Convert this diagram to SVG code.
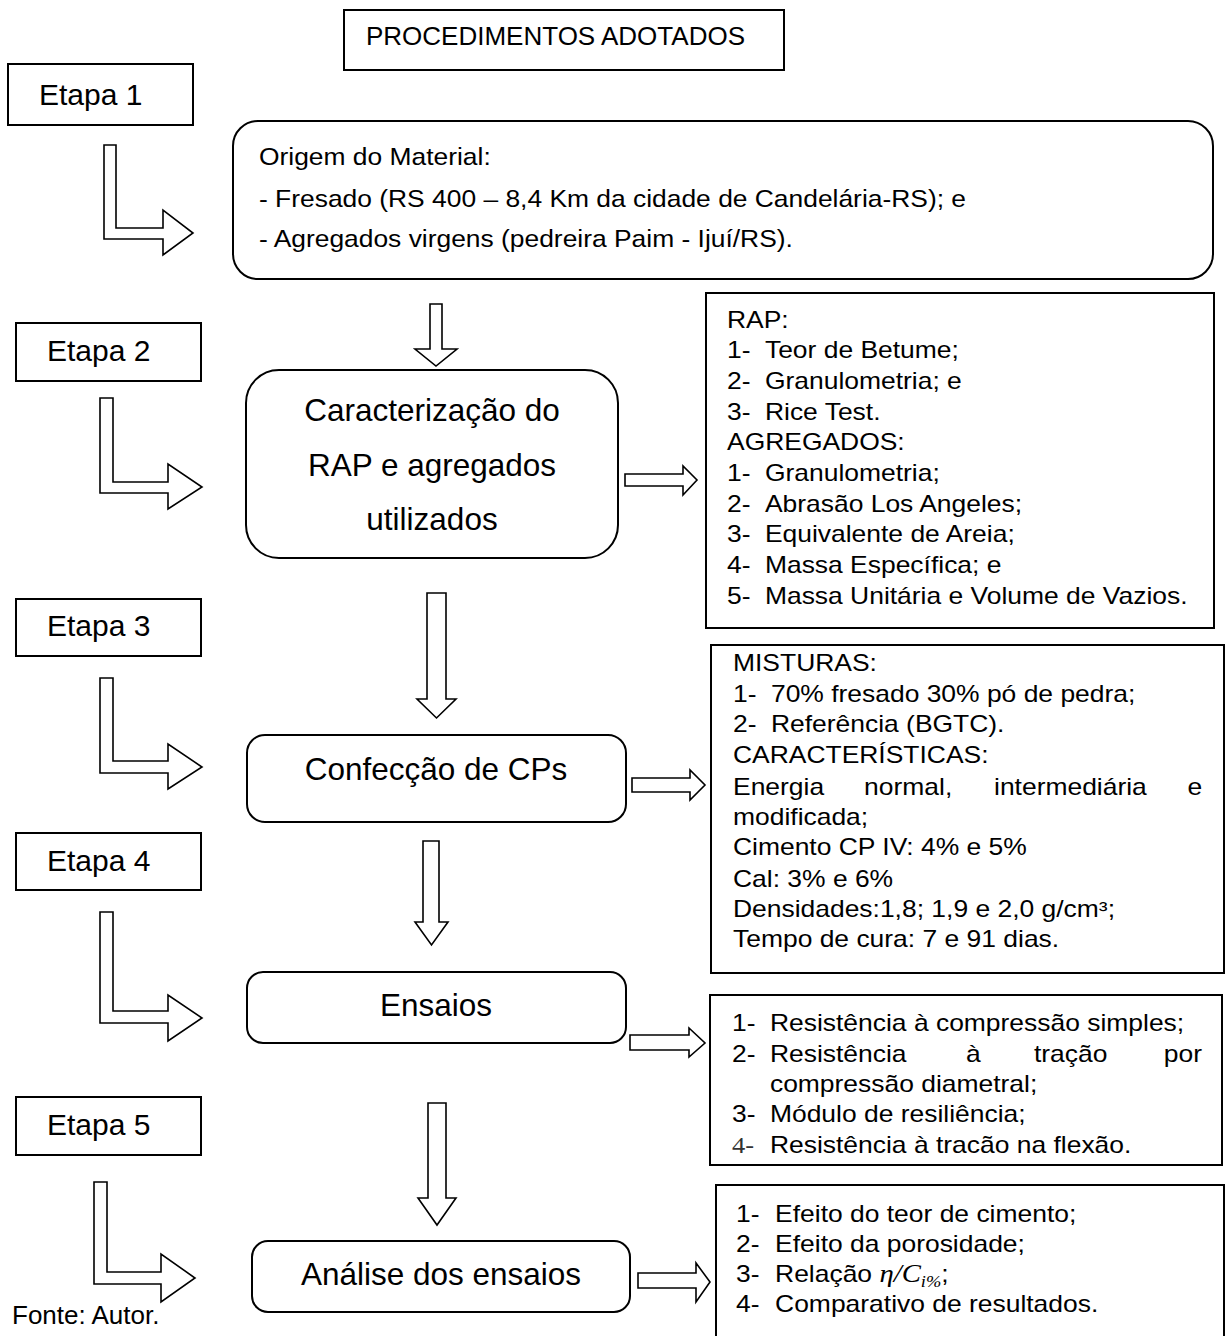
<svg xmlns="http://www.w3.org/2000/svg" width="1225" height="1336" viewBox="0 0 1225 1336">
<style>
  text { font-family: "Liberation Sans", Arial, sans-serif; fill: #000; }
  .box { fill: #fff; stroke: #000; stroke-width: 2; }
  .arr { fill: #fff; stroke: #000; stroke-width: 1.6; stroke-linejoin: miter; }
  .etapa { font-size: 30px; }
  .big { font-size: 31.5px; text-anchor: middle; }
  .sm { font-size: 23px; }
  .org { font-size: 24px; }
  .math { font-family: "Liberation Serif", "DejaVu Serif", serif; font-style: italic; }
</style>
<rect width="1225" height="1336" fill="#fff"/>

<g id="title">
  <rect class="box" x="344" y="10" width="440" height="60"/>
  <text x="366" y="45" font-size="26">PROCEDIMENTOS ADOTADOS</text>
</g>

<g id="etapa1">
  <rect class="box" x="8" y="64" width="185" height="61"/>
  <text class="etapa" x="39" y="105">Etapa 1</text>
</g>
<g id="etapa2">
  <rect class="box" x="16" y="323" width="185" height="58"/>
  <text class="etapa" x="47" y="361">Etapa 2</text>
</g>
<g id="etapa3">
  <rect class="box" x="16" y="599" width="185" height="57"/>
  <text class="etapa" x="47" y="636">Etapa 3</text>
</g>
<g id="etapa4">
  <rect class="box" x="16" y="833" width="185" height="57"/>
  <text class="etapa" x="47" y="871">Etapa 4</text>
</g>
<g id="etapa5">
  <rect class="box" x="16" y="1097" width="185" height="58"/>
  <text class="etapa" x="47" y="1135">Etapa 5</text>
</g>

<g id="origem">
  <rect class="box" x="233" y="121" width="980" height="158" rx="25"/>
  <g transform="translate(259 0) scale(1.1 1)">
    <text class="org" x="0" y="165">Origem do Material:</text>
    <text class="org" x="0" y="207">- Fresado (RS 400 – 8,4 Km da cidade de Candelária-RS); e</text>
    <text class="org" x="0" y="247">- Agregados virgens (pedreira Paim - Ijuí/RS).</text>
  </g>
</g>

<g id="caracterizacao">
  <rect class="box" x="246" y="370" width="372" height="188" rx="33"/>
  <text class="big" x="432" y="421">Caracterização do</text>
  <text class="big" x="432" y="476">RAP e agregados</text>
  <text class="big" x="432" y="530">utilizados</text>
</g>

<g id="rap">
  <rect class="box" x="706" y="293" width="508" height="335"/>
  <g transform="translate(727 0) scale(1.15 1)">
    <text class="sm" x="0" y="328">RAP:</text>
    <text class="sm" x="0" y="358">1-</text><text class="sm" x="33" y="358">Teor de Betume;</text>
    <text class="sm" x="0" y="389">2-</text><text class="sm" x="33" y="389">Granulometria; e</text>
    <text class="sm" x="0" y="420">3-</text><text class="sm" x="33" y="420">Rice Test.</text>
    <text class="sm" x="0" y="450">AGREGADOS:</text>
    <text class="sm" x="0" y="481">1-</text><text class="sm" x="33" y="481">Granulometria;</text>
    <text class="sm" x="0" y="512">2-</text><text class="sm" x="33" y="512">Abrasão Los Angeles;</text>
    <text class="sm" x="0" y="542">3-</text><text class="sm" x="33" y="542">Equivalente de Areia;</text>
    <text class="sm" x="0" y="573">4-</text><text class="sm" x="33" y="573">Massa Específica; e</text>
    <text class="sm" x="0" y="604">5-</text><text class="sm" x="33" y="604">Massa Unitária e Volume de Vazios.</text>
  </g>
</g>

<g id="confeccao">
  <rect class="box" x="247" y="735" width="379" height="87" rx="18"/>
  <text class="big" x="436" y="780">Confecção de CPs</text>
</g>

<g id="misturas">
  <rect class="box" x="711" y="645" width="513" height="328"/>
  <g transform="translate(733 0) scale(1.15 1)">
    <text class="sm" x="0" y="671">MISTURAS:</text>
    <text class="sm" x="0" y="702">1-</text><text class="sm" x="33" y="702">70% fresado 30% pó de pedra;</text>
    <text class="sm" x="0" y="732">2-</text><text class="sm" x="33" y="732">Referência (BGTC).</text>
    <text class="sm" x="0" y="763">CARACTERÍSTICAS:</text>
    <text class="sm" x="0" y="795">Energia</text>
    <text class="sm" x="114" y="795">normal,</text>
    <text class="sm" x="227" y="795">intermediária</text>
    <text class="sm" x="408" y="795" text-anchor="end">e</text>
    <text class="sm" x="0" y="825">modificada;</text>
    <text class="sm" x="0" y="855">Cimento CP IV: 4% e 5%</text>
    <text class="sm" x="0" y="887">Cal: 3% e 6%</text>
    <text class="sm" x="0" y="917">Densidades:1,8; 1,9 e 2,0 g/cm³;</text>
    <text class="sm" x="0" y="947">Tempo de cura: 7 e 91 dias.</text>
  </g>
</g>

<g id="ensaios">
  <rect class="box" x="247" y="972" width="379" height="71" rx="16"/>
  <text class="big" x="436" y="1016">Ensaios</text>
</g>

<g id="ensaios-lista">
  <rect class="box" x="710" y="995" width="512" height="170"/>
  <g transform="translate(732 0) scale(1.15 1)">
    <text class="sm" x="0" y="1031">1-</text><text class="sm" x="33" y="1031">Resistência à compressão simples;</text>
    <text class="sm" x="0" y="1062">2-</text><text class="sm" x="33" y="1062">Resistência</text>
    <text class="sm" x="203.5" y="1062">à</text>
    <text class="sm" x="262.6" y="1062">tração</text>
    <text class="sm" x="408.7" y="1062" text-anchor="end">por</text>
    <text class="sm" x="33" y="1092">compressão diametral;</text>
    <text class="sm" x="0" y="1122">3-</text><text class="sm" x="33" y="1122">Módulo de resiliência;</text>
    <text class="sm" x="0" y="1153" style="font-family:'Liberation Serif',serif;fill:#333">4-</text><text class="sm" x="33" y="1153">Resistência à tracão na flexão.</text>
  </g>
</g>

<g id="analise">
  <rect class="box" x="252" y="1241" width="378" height="71" rx="16"/>
  <text class="big" x="441" y="1285">Análise dos ensaios</text>
</g>

<g id="analise-lista">
  <rect class="box" x="716" y="1185" width="508" height="170"/>
  <g transform="translate(736 0) scale(1.15 1)">
    <text class="sm" x="0" y="1222">1-</text><text class="sm" x="34" y="1222">Efeito do teor de cimento;</text>
    <text class="sm" x="0" y="1252">2-</text><text class="sm" x="34" y="1252">Efeito da porosidade;</text>
    <text class="sm" x="0" y="1282">3-</text><text class="sm" x="34" y="1282">Relação <tspan class="math" font-size="25">η/C</tspan><tspan class="math" font-size="16" dy="5">i%</tspan><tspan dy="-5">;</tspan></text>
    <text class="sm" x="0" y="1312">4-</text><text class="sm" x="34" y="1312">Comparativo de resultados.</text>
  </g>
</g>

<text id="fonte" x="12" y="1324" font-size="26">Fonte: Autor.</text>

<g id="connectors">
  <path class="arr" d="M104 145 L104 239 L163 239 L163 255 L193 233 L163 210 L163 228 L116 228 L116 145 Z"/>
  <path class="arr" d="M100 398 L100 493 L168 493 L168 509 L202 487 L168 464 L168 482 L113 482 L113 398 Z"/>
  <path class="arr" d="M100 678 L100 773 L168 773 L168 789 L202 767 L168 744 L168 761 L113 761 L113 678 Z"/>
  <path class="arr" d="M100 912 L100 1023 L168 1023 L168 1041 L202 1018 L168 995 L168 1011 L113 1011 L113 912 Z"/>
  <path class="arr" d="M94 1182 L94 1284 L161 1284 L161 1302 L195 1278 L161 1254 L161 1272 L107 1272 L107 1182 Z"/>

  <path class="arr" d="M430 304 L442 304 L442 349 L457 349 L436 366 L415 349 L430 349 Z"/>
  <path class="arr" d="M427 593 L446 593 L446 699 L456 699 L436.5 718 L417 699 L427 699 Z"/>
  <path class="arr" d="M423 841 L439 841 L439 922 L448 922 L431.5 945 L415 922 L423 922 Z"/>
  <path class="arr" d="M428 1103 L446 1103 L446 1198 L456 1198 L437 1225 L418 1198 L428 1198 Z"/>

  <path class="arr" d="M625 474 L683 474 L683 466 L697 480 L683 495 L683 486 L625 486 Z"/>
  <path class="arr" d="M632 778 L690 778 L690 770 L705 785 L690 800 L690 792 L632 792 Z"/>
  <path class="arr" d="M630 1035 L689 1035 L689 1028 L705 1043 L689 1057 L689 1050 L630 1050 Z"/>
  <path class="arr" d="M638 1273 L696 1273 L696 1263 L710 1282 L696 1302 L696 1288 L638 1288 Z"/>
</g>
</svg>
